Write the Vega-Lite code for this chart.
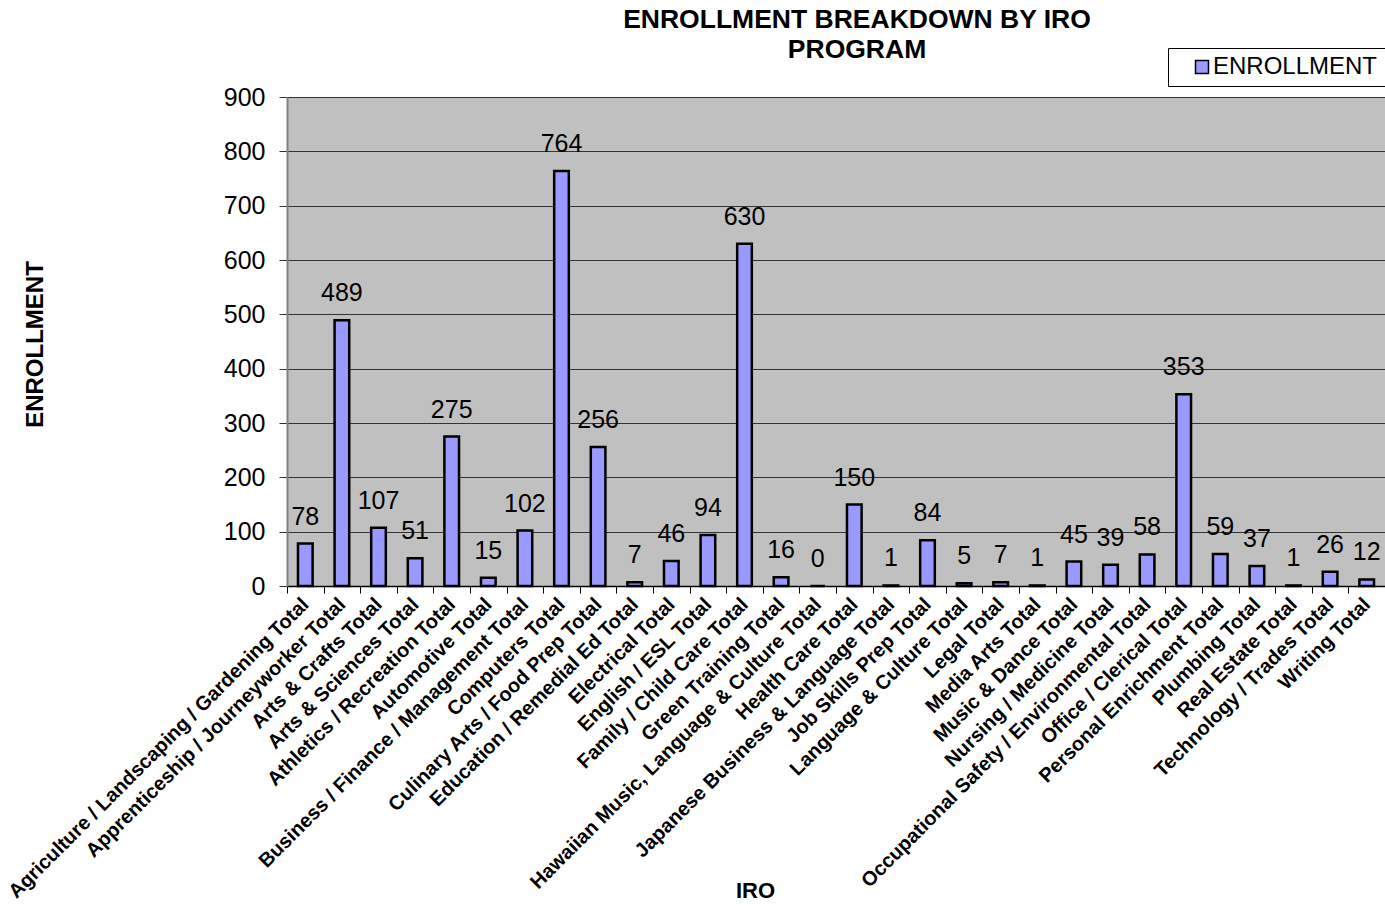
{
  "$schema": "https://vega.github.io/schema/vega-lite/v6.json",
  "autosize": {"type": "none"},
  "padding": {"left": 287, "top": 97, "right": 0, "bottom": 319},
  "width": 1098,
  "height": 489,
  "background": "white",
  "title": {
    "text": ["ENROLLMENT BREAKDOWN BY IRO", "PROGRAM"],
    "font": "Liberation Sans",
    "fontSize": 26.5,
    "fontWeight": "bold",
    "color": "black",
    "anchor": "middle",
    "frame": "group",
    "dx": 21,
    "baseline": "bottom",
    "lineHeight": 30,
    "offset": -43
  },
  "config": {
    "view": {"fill": "#C0C0C0", "stroke": null},
    "font": "Liberation Sans",
    "axis": {"labelColor": "black", "titleColor": "black", "labelFont": "Liberation Sans", "titleFont": "Liberation Sans"}
  },
  "data": {
    "values": [
      {"IRO": "Agriculture / Landscaping / Gardening Total", "ENROLLMENT": 78},
      {"IRO": "Apprenticeship / Journeyworker Total", "ENROLLMENT": 489},
      {"IRO": "Arts & Crafts Total", "ENROLLMENT": 107},
      {"IRO": "Arts & Sciences Total", "ENROLLMENT": 51},
      {"IRO": "Athletics / Recreation Total", "ENROLLMENT": 275},
      {"IRO": "Automotive Total", "ENROLLMENT": 15},
      {"IRO": "Business / Finance / Management  Total", "ENROLLMENT": 102},
      {"IRO": "Computers Total", "ENROLLMENT": 764},
      {"IRO": "Culinary Arts / Food Prep Total", "ENROLLMENT": 256},
      {"IRO": "Education / Remedial Ed Total", "ENROLLMENT": 7},
      {"IRO": "Electrical Total", "ENROLLMENT": 46},
      {"IRO": "English / ESL Total", "ENROLLMENT": 94},
      {"IRO": "Family / Child Care Total", "ENROLLMENT": 630},
      {"IRO": "Green Training Total", "ENROLLMENT": 16},
      {"IRO": "Hawaiian Music, Language & Culture Total", "ENROLLMENT": 0},
      {"IRO": "Health Care Total", "ENROLLMENT": 150},
      {"IRO": "Japanese Business & Language Total", "ENROLLMENT": 1},
      {"IRO": "Job Skills Prep Total", "ENROLLMENT": 84},
      {"IRO": "Language & Culture Total", "ENROLLMENT": 5},
      {"IRO": "Legal Total", "ENROLLMENT": 7},
      {"IRO": "Media Arts Total", "ENROLLMENT": 1},
      {"IRO": "Music & Dance Total", "ENROLLMENT": 45},
      {"IRO": "Nursing / Medicine Total", "ENROLLMENT": 39},
      {"IRO": "Occupational Safety / Environmental Total", "ENROLLMENT": 58},
      {"IRO": "Office / Clerical Total", "ENROLLMENT": 353},
      {"IRO": "Personal Enrichment Total", "ENROLLMENT": 59},
      {"IRO": "Plumbing Total", "ENROLLMENT": 37},
      {"IRO": "Real Estate Total", "ENROLLMENT": 1},
      {"IRO": "Technology / Trades Total", "ENROLLMENT": 26},
      {"IRO": "Writing Total", "ENROLLMENT": 12}
    ]
  },
  "encoding": {
    "x": {
      "field": "IRO",
      "type": "nominal",
      "sort": null,
      "scale": {"paddingInner": 0, "paddingOuter": 0},
      "axis": {
        "title": "IRO",
        "titleFontSize": 22,
        "titleFontWeight": "bold",
        "titleX": 468,
        "titleY": 304,
        "titleAlign": "center",
        "titleBaseline": "middle",
        "labelAngle": -45,
        "labelAlign": "right",
        "labelBaseline": "middle",
        "labelFontSize": 20,
        "labelFontWeight": "bold",
        "labelPadding": 8,
        "labelLimit": 0,
        "labelOverlap": false,
        "tickBand": "extent",
        "tickSize": 7,
        "tickColor": "black",
        "tickWidth": 1,
        "domainColor": "black",
        "domainWidth": 1.5,
        "grid": false
      }
    },
    "y": {
      "field": "ENROLLMENT",
      "type": "quantitative",
      "scale": {"domain": [0, 900], "nice": false},
      "axis": {
        "title": "ENROLLMENT",
        "titleFontSize": 24,
        "titleFontWeight": "bold",
        "titleAngle": -90,
        "titleX": -252,
        "titleY": 247,
        "titleAlign": "center",
        "titleBaseline": "middle",
        "values": [0, 100, 200, 300, 400, 500, 600, 700, 800, 900],
        "labelFontSize": 25,
        "labelPadding": 14,
        "tickSize": 8,
        "tickColor": "#333333",
        "grid": true,
        "gridColor": "#333333",
        "gridWidth": 1,
        "domainColor": "#808080",
        "domainWidth": 2
      }
    }
  },
  "layer": [
    {
      "mark": {"type": "bar", "width": {"band": 0.4}, "stroke": "black", "strokeWidth": 2.5},
      "encoding": {
        "color": {
          "datum": "ENROLLMENT",
          "scale": {"range": ["#9999FF"]},
          "legend": {
            "title": null,
            "orient": "none",
            "legendX": 881,
            "legendY": -49,
            "direction": "vertical",
            "symbolType": "square",
            "symbolSize": 169,
            "symbolStrokeColor": "black",
            "symbolStrokeWidth": 1.5,
            "symbolOffset": 15,
            "labelFontSize": 24,
            "labelFont": "Liberation Sans",
            "labelColor": "black",
            "labelOffset": -1,
            "labelLimit": 0,
            "padding": 7,
            "strokeColor": "black",
            "fillColor": "white"
          }
        }
      }
    },
    {
      "mark": {"type": "text", "fontSize": 25, "color": "black", "baseline": "alphabetic", "dy": -19, "font": "Liberation Sans"},
      "encoding": {"text": {"field": "ENROLLMENT", "type": "quantitative"}}
    }
  ]
}
